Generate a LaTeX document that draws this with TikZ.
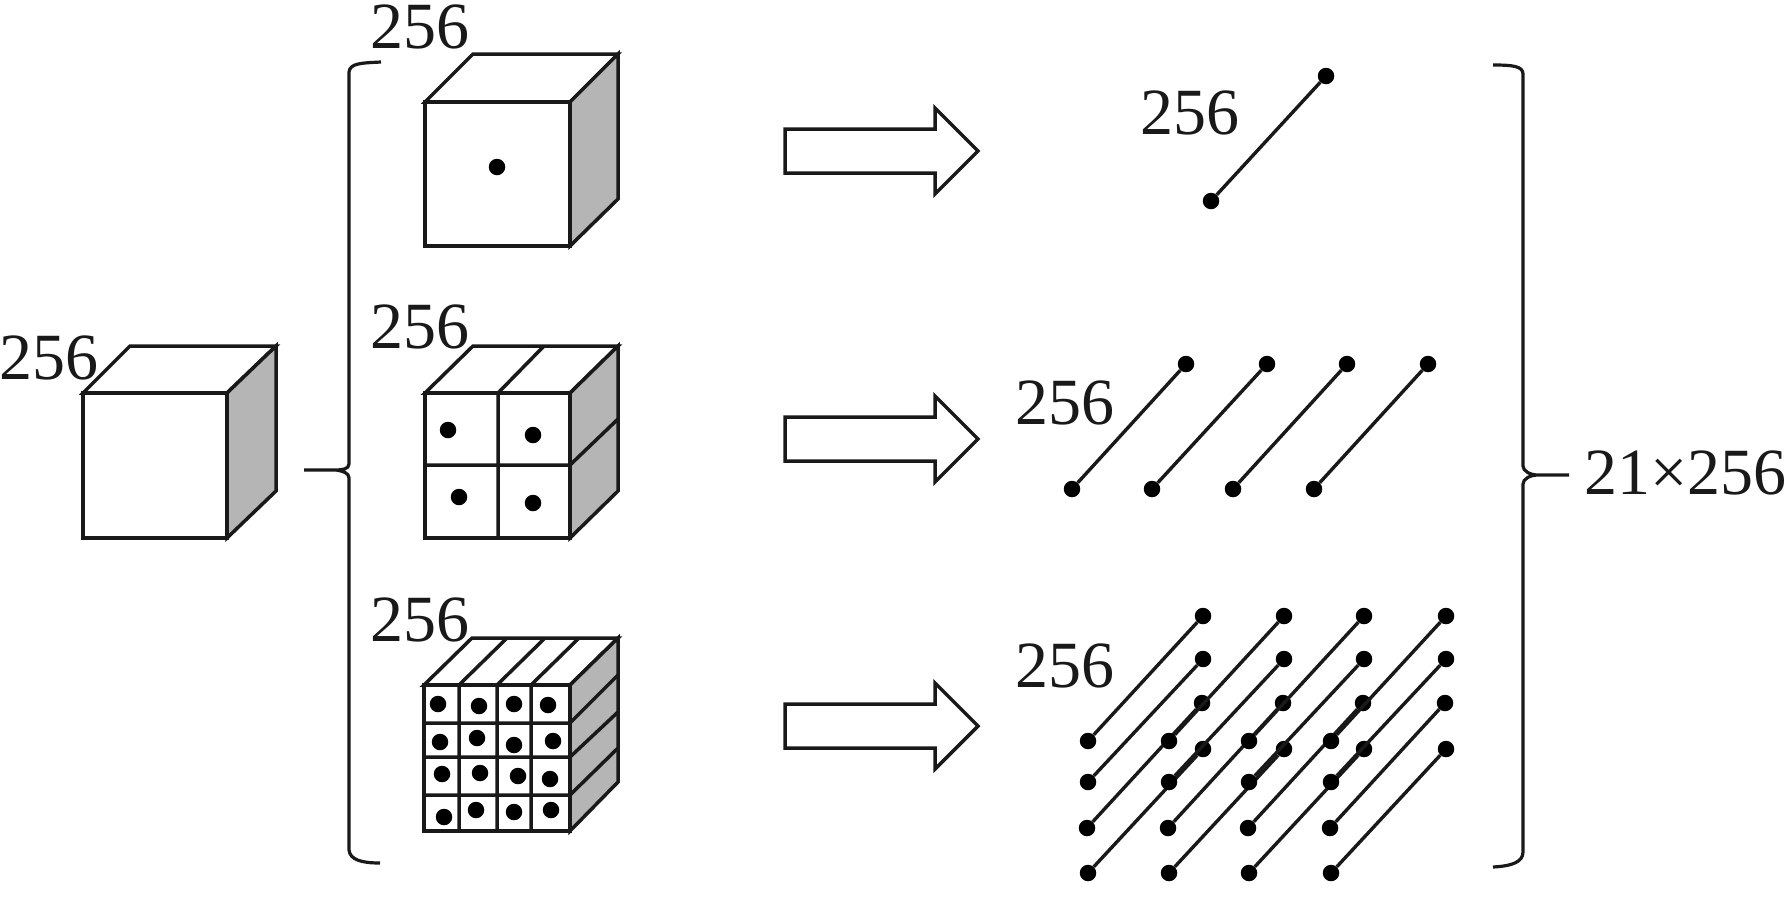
\documentclass[tikz,border=0pt]{standalone}
\usepackage{fontspec}
\setmainfont{Liberation Serif}
\usepackage{xcolor}
\definecolor{sidegray}{HTML}{B5B5B5}
\tikzset{
    facebox/.style = {draw = black!90, line width = 3.5pt, line join = miter, fill = white},
    sidebox/.style = {draw = black!90, line width = 3.5pt, line join = miter, fill = sidegray},
    gridline/.style = {draw = black!90, line width = 3.5pt},
    bracket/.style = {draw = black!90, line width = 3.2pt},
    blockarrow/.style = {draw = black!90, line width = 3.5pt, fill = white},
    dot/.style = {circle, fill = black, inner sep = 0pt, minimum size = 16.5pt},
    wire/.style = {draw = black!90, line width = 3.4pt},
    dimlabel/.style = {anchor = base west, inner sep = 0pt, text = black!90,
                       font = \fontsize{66}{66}\selectfont}
}

\begin{document}
\begin{tikzpicture}[x=1pt,y=-1pt]

    \useasboundingbox (0,0) rectangle (1785,919);

    %input cube
    \draw[facebox] (83,393) -- (130,346) -- (276,346) -- (227,393) -- cycle;
    \draw[sidebox] (227,393) -- (276,346) -- (276,491) -- (227,538) -- cycle;
    \draw[facebox] (83,393) rectangle (227,538);
    \node[dimlabel] (inlabel) at (-1,379) {256};

    %cube with one cell
    \draw[facebox] (425,102) -- (473,54) -- (618,54) -- (570,102) -- cycle;
    \draw[sidebox] (570,102) -- (618,54) -- (618,199) -- (570,246) -- cycle;
    \draw[facebox] (425,102) rectangle (570,246);
    \node[dimlabel] (toplabel) at (370,48) {256};

    %cube with four cells
    \draw[facebox] (425,393) -- (473,346) -- (618,346) -- (570,393) -- cycle;
    \draw[sidebox] (570,393) -- (618,346) -- (618,491) -- (570,538) -- cycle;
    \draw[facebox] (425,393) rectangle (570,538);
    \draw[gridline] (498,393) -- (498,538) (425,465) -- (570,465)
                    (498,393) -- (544,346) (570,465) -- (618,419);
    \node[dimlabel] (midlabel) at (370,348) {256};

    %cube with sixteen cells
    \draw[facebox] (424,685) -- (472,638) -- (618,638) -- (570,685) -- cycle;
    \draw[sidebox] (570,685) -- (618,638) -- (618,782) -- (570,831) -- cycle;
    \draw[facebox] (424,685) rectangle (570,831);
    \draw[gridline] (459,685) -- (459,831) (497,685) -- (497,831) (531,685) -- (531,831)
                    (424,723) -- (570,723) (424,757) -- (570,757) (424,795) -- (570,795)
                    (459,685) -- (507,638) (497,685) -- (545,638) (531,685) -- (579,638)
                    (570,723) -- (618,675) (570,757) -- (618,712) (570,795) -- (618,748);
    \node[dimlabel] (lowlabel) at (370,641) {256};

    %cell centres
    \foreach \name/\x/\y in {c1/497/167,
        c2/448/430, c3/533/435, c4/459/497, c5/533/503,
        e1/438/704, e2/479/706, e3/514/704, e4/548/705,
        e5/440/742, e6/477/738, e7/514/745, e8/553/741,
        e9/442/774, e10/480/773, e11/518/776, e12/550/779,
        e13/444/817, e14/476/810, e15/514/812, e16/551/810}
        \node[dot] (\name) at (\x,\y) {};

    %left and right brackets
    \draw[bracket] (381,62) .. controls (362,63) and (350,63) .. (349,72) -- (349,464)
        .. controls (349,469) and (342,470) .. (336,470) -- (304,470)
        (336,470) .. controls (343,471) and (349,473) .. (349,478) -- (349,850)
        .. controls (350,860) and (362,863) .. (380,863);
    \draw[bracket] (1493,65) .. controls (1512,65) and (1523,66) .. (1523,74) -- (1523,466)
        .. controls (1523,471) and (1530,475) .. (1538,475) -- (1569,475)
        (1538,475) .. controls (1530,475) and (1523,479) .. (1523,484) -- (1523,852)
        .. controls (1523,862) and (1512,866) .. (1493,867);
    \node[dimlabel] (sumlabel) at (1584,494) {21×256};

    %block arrows
    \foreach \y in {0,288,575}
        \draw[blockarrow] (785,129+\y) -- (935,129+\y) -- (935,108+\y) -- (978,151+\y)
            -- (935,194+\y) -- (935,173+\y) -- (785,173+\y) -- cycle;

    %one line
    \node[dot] (p1a) at (1211,201) {};
    \node[dot] (p1b) at (1326,76) {};
    \node[dimlabel] (onelabel) at (1140,134) {256};
    \path[wire] (p1a) edge [] (p1b);

    %four lines
    \foreach \name/\xa/\xb in {a/1072/1186, b/1152/1267, c/1233/1347, d/1314/1428} {
        \node[dot] (p2\name a) at (\xa,489) {};
        \node[dot] (p2\name b) at (\xb,364) {};
        \path[wire] (p2\name a) edge [] (p2\name b);
    }
    \node[dimlabel] (fourlabel) at (1015,424) {256};

    %sixteen lines
    \foreach \col/\dx in {a/0, b/81, c/161, d/243} {
        \foreach \row/\xa/\ya/\xb/\yb in {1/1088/741/1203/616, 2/1088/782/1203/659,
                                          3/1087/828/1202/703, 4/1088/873/1203/749} {
            \node[dot] (p3\col\row a) at (\xa+\dx,\ya) {};
            \node[dot] (p3\col\row b) at (\xb+\dx,\yb) {};
            \path[wire] (p3\col\row a) edge [] (p3\col\row b);
        }
    }
    \node[dimlabel] (manylabel) at (1015,687) {256};

\end{tikzpicture}
\end{document}
